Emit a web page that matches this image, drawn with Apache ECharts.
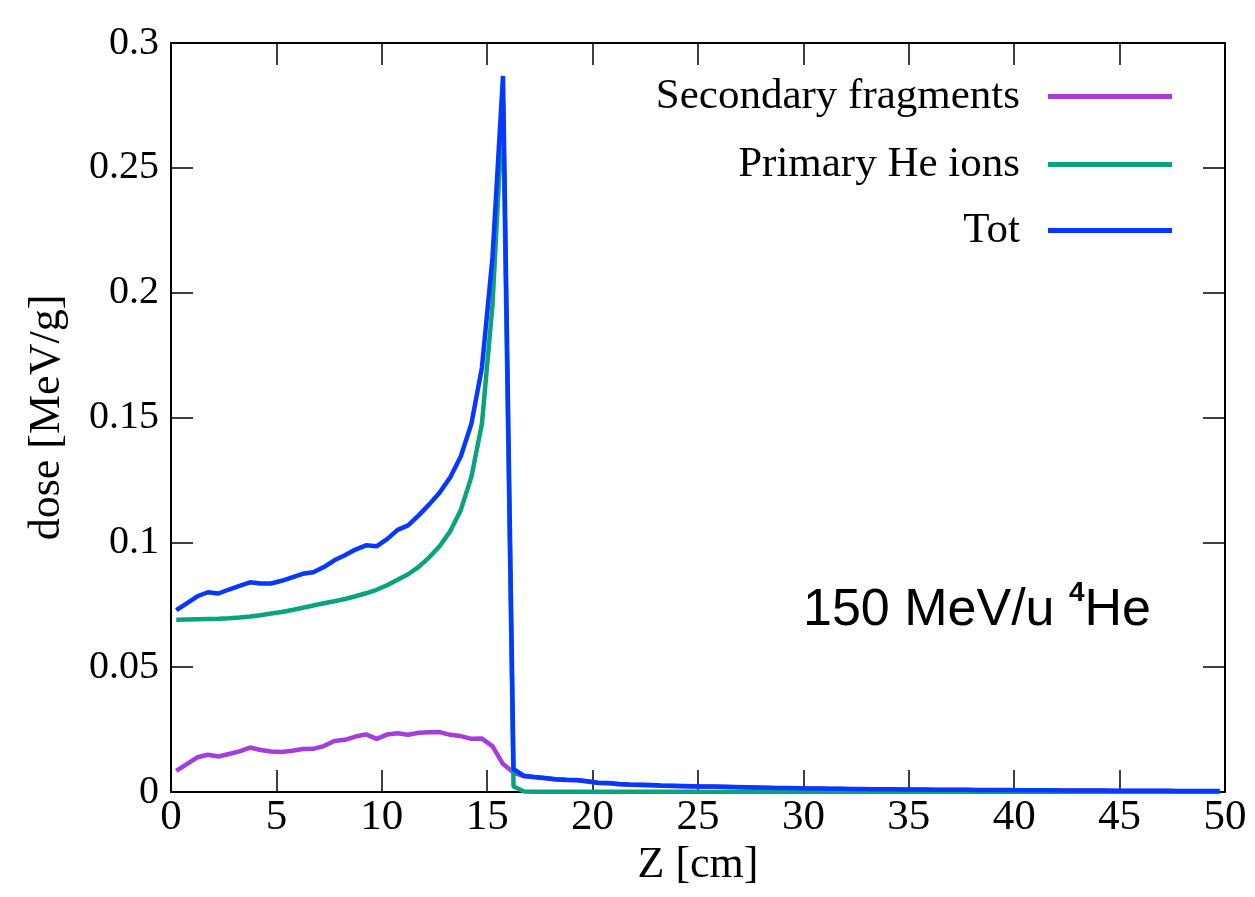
<!DOCTYPE html>
<html>
<head>
<meta charset="utf-8">
<script src="https://cdn.jsdelivr.net/npm/echarts@6/dist/echarts.min.js"></script>
<style>html,body{margin:0;padding:0;background:#fff}#c{width:1255px;height:897px}</style>
</head>
<body>
<div id="c"></div>
<script>
const zValues = [0.25,0.75,1.25,1.75,2.25,2.75,3.25,3.75,4.25,4.75,5.25,5.75,6.25,6.75,7.25,7.75,8.25,8.75,9.25,9.75,
10.25,10.75,11.25,11.75,12.25,12.75,13.25,13.75,14.25,14.75,15.25,15.75,16.25,16.75,17.25,17.75,18.25,18.75,19.25,19.75,
20.25,20.75,21.25,21.75,22.25,22.75,23.25,23.75,24.25,24.75,25.25,25.75,26.25,26.75,27.25,27.75,28.25,28.75,29.25,29.75,
30.25,30.75,31.25,31.75,32.25,32.75,33.25,33.75,34.25,34.75,35.25,35.75,36.25,36.75,37.25,37.75,38.25,38.75,39.25,39.75,
40.25,40.75,41.25,41.75,42.25,42.75,43.25,43.75,44.25,44.75,45.25,45.75,46.25,46.75,47.25,47.75,48.25,48.75,49.25,49.75];

const secondary = [0.0085,0.0112,0.0139,0.0149,0.0142,0.0152,0.0163,0.0178,0.0168,0.0162,
0.0160,0.0165,0.0172,0.0173,0.0184,0.0204,0.0209,0.0222,0.0231,0.0213,
0.0230,0.0235,0.0229,0.0237,0.0239,0.0240,0.0229,0.0224,0.0213,0.0214,
0.0184,0.0112,0.0078,0.0063,0.0059,0.0055,0.0050,0.0048,0.0047,0.0042,
0.0036,0.0035,0.0031,0.0029,0.0028,0.0027,0.0025,0.0024,0.0023,0.0022,
0.0021,0.0021,0.0020,0.0019,0.0018,0.0017,0.0016,0.0015,0.0015,0.0014,
0.0013,0.0013,0.0012,0.0012,0.0011,0.0011,0.0010,0.0010,0.0010,0.0009,
0.0009,0.0009,0.0008,0.0008,0.0008,0.0008,0.0007,0.0007,0.0007,0.0007,
0.0006,0.0006,0.0006,0.0006,0.0005,0.0005,0.0005,0.0005,0.0005,0.0004,
0.0004,0.0004,0.0004,0.0004,0.0004,0.0003,0.0003,0.0003,0.0003,0.0003];

const primary = [0.0690,0.0691,0.0692,0.0693,0.0694,0.0696,0.0699,0.0703,0.0708,0.0715,
0.0721,0.0729,0.0738,0.0747,0.0756,0.0764,0.0773,0.0784,0.0796,0.0810,
0.0828,0.0850,0.0872,0.0902,0.0940,0.0985,0.1045,0.1130,0.1262,0.1475,
0.1950,0.2760,0.0022,0.0002,0.0001,0.0001,0.0001,0.0001,0.0001,0.0001,
0.0001,0.0001,0.0001,0.0001,0.0001,0.0001,0.0001,0.0001,0.0001,0.0001,
0,0,0,0,0,0,0,0,0,0,
0,0,0,0,0,0,0,0,0,0,
0,0,0,0,0,0,0,0,0,0,
0,0,0,0,0,0,0,0,0,0,
0,0,0,0,0,0,0,0,0,0];

const total = [0.0728,0.0756,0.0784,0.0800,0.0795,0.0811,0.0826,0.0840,0.0835,0.0835,
0.0846,0.0860,0.0874,0.0880,0.0901,0.0928,0.0948,0.0971,0.0988,0.0984,
0.1013,0.1050,0.1068,0.1108,0.1152,0.1200,0.1261,0.1345,0.1475,0.1700,
0.2140,0.2868,0.0092,0.0065,0.0060,0.0056,0.0051,0.0049,0.0048,0.0043,
0.0037,0.0036,0.0032,0.0030,0.0029,0.0028,0.0026,0.0025,0.0024,0.0023,
0.0022,0.0022,0.0021,0.0020,0.0019,0.0018,0.0017,0.0016,0.0016,0.0015,
0.0014,0.0014,0.0013,0.0013,0.0012,0.0012,0.0011,0.0011,0.0011,0.0010,
0.0010,0.0010,0.0009,0.0009,0.0009,0.0009,0.0008,0.0008,0.0008,0.0008,
0.0007,0.0007,0.0007,0.0007,0.0006,0.0006,0.0006,0.0006,0.0006,0.0005,
0.0005,0.0005,0.0005,0.0005,0.0005,0.0004,0.0004,0.0004,0.0004,0.0004];

const seriesNames = ['Secondary fragments','Primary He ions','Tot'];
const seriesColors = ['#a53ddc','#0aa37f','#0638ff'];
const xTicks = {min:0, max:50, interval:5};
const yTicks = {min:0, max:0.3, interval:0.05};
const annotation = '150 MeV/u ';
const annotationSup = '4';
const annotationEnd = 'He';

const pair = arr => zValues.map((z,i)=>[z, arr[i]]);
const serif = '"Liberation Serif","DejaVu Serif",serif';
const fmtY = v => (+v.toFixed(2)).toString();

const chart = echarts.init(document.getElementById('c'), null, {renderer:'canvas'});
const axisCommon = () => ({
  axisLine:{show:true, onZero:false, lineStyle:{color:'#000', width:2}},
  axisTick:{show:true, inside:true, length:22, lineStyle:{color:'#000', width:1.5}},
  splitLine:{show:false}
});
const mkLegend = (name, top) => ({
  data:[name], right:78, top:top, orient:'vertical', align:'right',
  itemWidth:124, itemHeight:5, itemGap:0, icon:'rect',
  textStyle:{fontFamily:serif, fontSize:43, color:'#000', padding:[0,23,0,0]}
});
chart.setOption({
  animation:false,
  backgroundColor:'#fff',
  grid:{left:171, right:30, top:43, bottom:105, containLabel:false},
  title:{
    text:'{a|'+annotation+'}{s|'+annotationSup+'}{a|'+annotationEnd+'}',
    left:798, top:574,
    textStyle:{rich:{
      a:{fontFamily:'"Liberation Sans",Arial,sans-serif', fontSize:52, color:'#000', fontWeight:'normal', verticalAlign:'bottom', lineHeight:58},
      s:{fontFamily:'"Liberation Sans",Arial,sans-serif', fontSize:28, color:'#000', verticalAlign:'top', lineHeight:58, padding:[0,0,24,0]}
    }}
  },
  legend:[mkLegend(seriesNames[0],70), mkLegend(seriesNames[1],138), mkLegend(seriesNames[2],204)],
  xAxis:[
    Object.assign({type:'value', position:'bottom', min:xTicks.min, max:xTicks.max, interval:xTicks.interval,
      name:'Z [cm]', nameLocation:'middle', nameGap:36,
      nameTextStyle:{fontFamily:serif, fontSize:44, color:'#000', verticalAlign:'top'},
      axisLabel:{fontFamily:serif, fontSize:43, color:'#000', margin:4}}, axisCommon()),
    Object.assign({type:'value', position:'top', min:xTicks.min, max:xTicks.max, interval:xTicks.interval,
      axisLabel:{show:false}}, axisCommon())
  ],
  yAxis:[
    Object.assign({type:'value', position:'left', min:yTicks.min, max:yTicks.max, interval:yTicks.interval,
      name:'dose [MeV/g]', nameLocation:'middle', nameGap:102,
      nameTextStyle:{fontFamily:serif, fontSize:44, color:'#000'},
      axisLabel:{fontFamily:serif, fontSize:40, color:'#000', margin:12, formatter:fmtY}}, axisCommon()),
    Object.assign({type:'value', position:'right', min:yTicks.min, max:yTicks.max, interval:yTicks.interval,
      axisLabel:{show:false}}, axisCommon())
  ],
  series:[
    {name:seriesNames[0], type:'line', data:pair(secondary), showSymbol:false, color:seriesColors[0], lineStyle:{width:4.5, color:seriesColors[0]}, z:2},
    {name:seriesNames[1], type:'line', data:pair(primary), showSymbol:false, color:seriesColors[1], lineStyle:{width:4.5, color:seriesColors[1]}, z:3},
    {name:seriesNames[2], type:'line', data:pair(total), showSymbol:false, color:seriesColors[2], lineStyle:{width:4.5, color:seriesColors[2]}, z:4}
  ]
});
</script>
</body>
</html>
